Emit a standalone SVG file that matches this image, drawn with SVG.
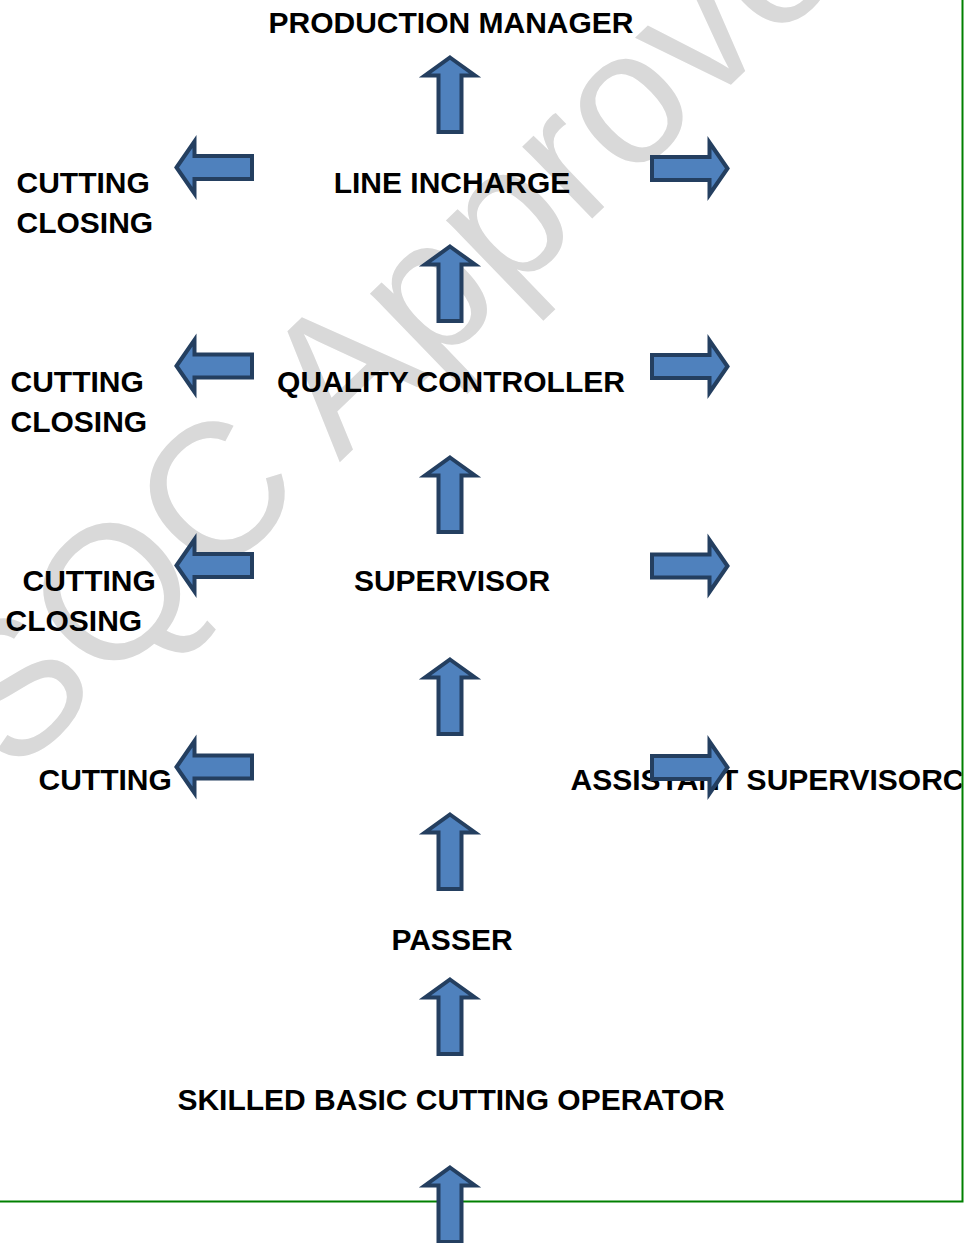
<svg xmlns="http://www.w3.org/2000/svg" xmlns:xlink="http://www.w3.org/1999/xlink" width="967" height="1243" viewBox="0 0 967 1243">
  <style>
    .lbl { font-family: "Liberation Sans", Arial, sans-serif; font-weight: bold; font-size: 30px; fill: #000000; }
    .mid { text-anchor: middle; }
    .wm { font-family: "Liberation Sans", Arial, sans-serif; font-size: 190px; fill: #d9d9d9; }
    .arw { fill: #4f81bd; stroke: #243f60; stroke-width: 4; stroke-linejoin: miter; }
    .border { fill: none; stroke: #008000; stroke-width: 2; }
  </style>
  <defs>
    <path id="up" class="arw" d="M0,2.5 L25,20.5 L11.5,20.5 L11.5,77 L-11.5,77 L-11.5,20.5 L-25,20.5 Z"/>
    <path id="left" class="arw" d="M2.5,0 L20.5,-26 L20.5,-11.5 L78,-11.5 L78,11.5 L20.5,11.5 L20.5,26 Z"/>
    <clipPath id="page">
      <rect x="0" y="0" width="961.5" height="1243"/>
    </clipPath>
  </defs>
  <rect x="0" y="0" width="967" height="1243" fill="#ffffff"/>

  <g id="watermark">
    <text class="wm" transform="translate(13,778) rotate(-44)">SQC Approved</text>
  </g>

  <g id="border">
    <polyline class="border" points="962.5,0 962.5,1201.5 0,1201.5"/>
  </g>

  <g id="node-production-manager"><text class="lbl mid" x="451" y="33">PRODUCTION MANAGER</text></g>
  <g id="node-line-incharge"><text class="lbl mid" x="452" y="193">LINE INCHARGE</text></g>
  <g id="node-lc-1">
    <text class="lbl" x="16.5" y="193">CUTTING</text>
    <text class="lbl" x="16.5" y="233">CLOSING</text>
  </g>
  <g id="node-quality-controller"><text class="lbl mid" x="451" y="392">QUALITY CONTROLLER</text></g>
  <g id="node-lc-2">
    <text class="lbl" x="10.5" y="392">CUTTING</text>
    <text class="lbl" x="10.5" y="432">CLOSING</text>
  </g>
  <g id="node-supervisor"><text class="lbl mid" x="452" y="591">SUPERVISOR</text></g>
  <g id="node-lc-3">
    <text class="lbl" x="22.5" y="591">CUTTING</text>
    <text class="lbl" x="5.5" y="631">CLOSING</text>
  </g>
  <g id="node-cutting-4"><text class="lbl" x="38.5" y="790">CUTTING</text></g>
  <g id="node-assistant-supervisor" clip-path="url(#page)"><text class="lbl" x="570.5" y="790">ASSISTANT SUPERVISORC</text></g>
  <g id="node-passer"><text class="lbl mid" x="452" y="950">PASSER</text></g>
  <g id="node-skilled-operator"><text class="lbl mid" x="451" y="1110">SKILLED BASIC CUTTING OPERATOR</text></g>

  <g id="connectors">
    <use xlink:href="#up" href="#up" transform="translate(450,55)"/>
    <use xlink:href="#up" href="#up" transform="translate(450,244)"/>
    <use xlink:href="#up" href="#up" transform="translate(450,455)"/>
    <use xlink:href="#up" href="#up" transform="translate(450,657)"/>
    <use xlink:href="#up" href="#up" transform="translate(450,812)"/>
    <use xlink:href="#up" href="#up" transform="translate(450,977)"/>
    <use xlink:href="#up" href="#up" transform="translate(450,1165)"/>

    <use xlink:href="#left" href="#left" transform="translate(174,167.5)"/>
    <use xlink:href="#left" href="#left" transform="translate(174,366)"/>
    <use xlink:href="#left" href="#left" transform="translate(174,565.5)"/>
    <use xlink:href="#left" href="#left" transform="translate(174,767)"/>

    <use xlink:href="#left" href="#left" transform="translate(730,168.5) scale(-1,1)"/>
    <use xlink:href="#left" href="#left" transform="translate(730,366.5) scale(-1,1)"/>
    <use xlink:href="#left" href="#left" transform="translate(730,566) scale(-1,1)"/>
    <use xlink:href="#left" href="#left" transform="translate(730,767.5) scale(-1,1)"/>
  </g>
</svg>
